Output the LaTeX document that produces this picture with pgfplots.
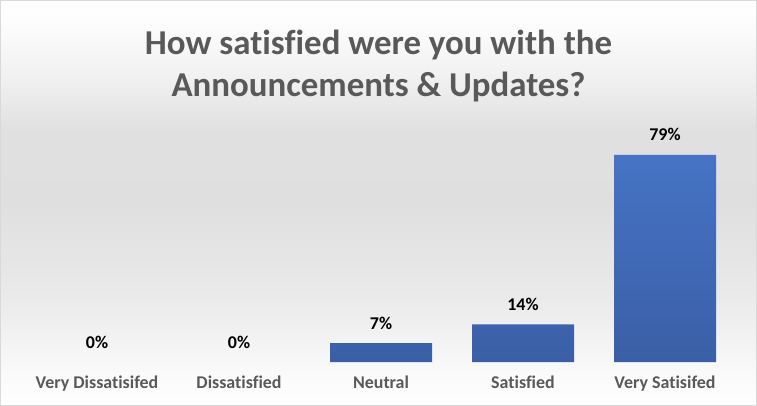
\documentclass[border=0pt]{standalone}
\usepackage{fontspec}
\setmainfont{Carlito}[Ligatures=NoCommon]
\usepackage{pgfplots}
\pgfplotsset{compat=1.18}
\definecolor{titlegray}{HTML}{595959}
\definecolor{bartop}{HTML}{4673C5}
\definecolor{barbot}{HTML}{3A5FA6}
\pgfdeclareverticalshading{bgshade}{100bp}{rgb(0bp)=(1,1,1); rgb(25bp)=(1,1,1); rgb(29bp)=(0.98,0.98,0.98); rgb(38bp)=(0.92,0.92,0.92); rgb(50bp)=(0.875,0.875,0.875); rgb(59bp)=(0.88,0.88,0.88); rgb(65bp)=(0.94,0.94,0.94); rgb(72bp)=(0.99,0.99,0.99); rgb(75bp)=(1,1,1); rgb(100bp)=(1,1,1)}
\begin{document}
\begin{tikzpicture}
\shade[shading=bgshade] (0bp,0bp) rectangle (757bp,406bp);
\draw[color=black!15, line width=0.8bp] (0.5bp,0.5bp) rectangle (756.5bp,405.5bp);
\node[font=\fontsize{35}{43}\selectfont\bfseries, text=titlegray, align=center] at (378.5bp,340bp) {How satisfied were you with the\\Announcements \& Updates?};
\begin{axis}[
  at={(26bp,44bp)}, anchor=south west,
  scale only axis, width=710bp, height=263.5bp,
  xmin=-0.5, xmax=4.5, ymin=0, ymax=100,
  axis line style={draw=none},
  ytick=\empty,
  xtick={0,1,2,3,4},
  xticklabels={Very Dissatisifed, Dissatisfied, Neutral, Satisfied, Very Satisifed},
  tick style={draw=none},
  xticklabel style={font=\fontsize{18}{18}\selectfont\bfseries, text=titlegray, anchor=north, inner sep=0pt, yshift=-14bp},
  /pgf/number format/assume math mode=true,
  clip=false,
]
\addplot[ybar, bar width=102bp, bar shift=0pt, draw=none, top color=bartop, bottom color=barbot]
  coordinates {(2,7.14) (3,14.29) (4,78.57)};
\addplot[ybar, bar width=102bp, bar shift=0pt, draw=none, fill=none,
  nodes near coords={\pgfmathprintnumber[fixed,precision=0,assume math mode=true]{\pgfplotspointmeta}\%},
  nodes near coords style={font=\fontsize{18}{18}\selectfont\bfseries, text=black, anchor=base, inner sep=0pt, yshift=14bp}]
  coordinates {(0,0) (1,0) (2,7.14) (3,14.29) (4,78.57)};
\end{axis}
\end{tikzpicture}
\end{document}
